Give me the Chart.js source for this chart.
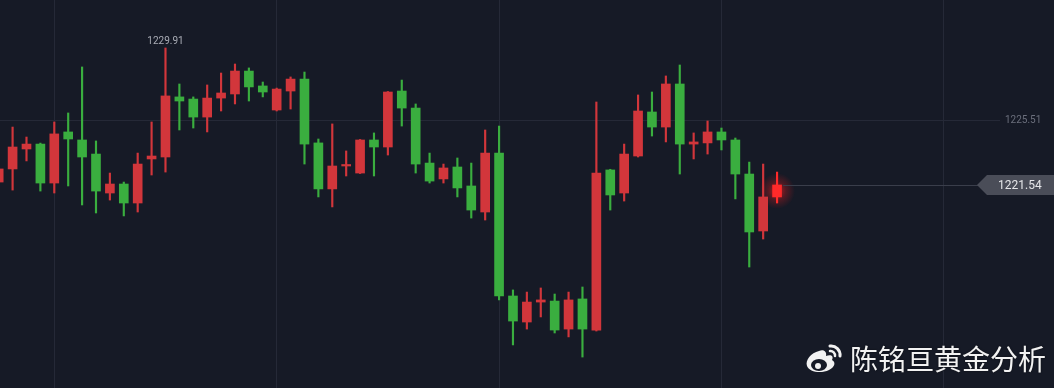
<!DOCTYPE html>
<html>
<head>
<meta charset="utf-8">
<script src="https://cdn.jsdelivr.net/npm/chart.js@4"></script>
<style>
  html, body { margin: 0; padding: 0; background: #161a26; }
  #wrap { position: relative; width: 1054px; height: 388px; }
  #mark { position: absolute; left: 804px; top: 342px; display: flex; align-items: center; gap: 6px;
          color: #f2f2f2; font: 28px "Noto Sans CJK SC", sans-serif; line-height: 1; text-shadow: 0 0 2px rgba(0,0,0,.6); }
</style>
</head>
<body>
<div id="wrap">
  <canvas id="c" width="1054" height="388"></canvas>
  <div id="mark">
    <svg width="40" height="32" viewBox="0 0 40 32">
      <path d="M15 9 C7 11 1 18 3 24 C5 30 17 32 25 28 C31 25 32 20 28 18 C30 14 27 12 22 14 C23 10 20 7 15 9 Z" fill="#f2f2f2"/>
      <ellipse cx="15" cy="23" rx="8" ry="6" fill="#161a26"/>
      <circle cx="14" cy="24" r="3" fill="#f2f2f2"/>
      <path d="M26 4 A9 9 0 0 1 36 14" stroke="#f2f2f2" stroke-width="3" fill="none" stroke-linecap="round"/>
      <path d="M26 9 A4.5 4.5 0 0 1 31 14" stroke="#f2f2f2" stroke-width="2.5" fill="none" stroke-linecap="round"/>
    </svg>
    <span>陈铭亘黄金分析</span>
  </div>
</div>
<script>
const opens  = [1221.72,1222.52,1223.74,1224.04,1221.66,1224.78,1224.29,1223.43,1221.05,1221.60,
                1220.44,1223.13,1223.25,1226.92,1226.79,1225.69,1226.85,1227.10,1228.50,1227.59,
                1226.12,1227.28,1228.01,1224.11,1221.30,1222.70,1222.27,1224.29,1223.86,1227.28,
                1226.24,1222.88,1221.91,1222.64,1221.48,1219.89,1223.49,1214.76,1213.17,1214.39,
                1214.45,1212.74,1214.58,1212.68,1222.46,1221.05,1223.31,1226.00,1225.08,1227.71,
                1224.04,1224.11,1224.78,1224.29,1222.21,1218.73,1220.81];
const closes = [1222.52,1223.86,1224.04,1221.66,1224.66,1224.35,1223.25,1221.17,1221.60,1220.44,
                1222.82,1223.31,1226.98,1226.67,1225.69,1226.85,1227.16,1228.50,1227.53,1227.22,
                1227.40,1228.01,1224.04,1221.30,1222.70,1222.76,1224.29,1223.86,1227.22,1226.24,
                1222.82,1221.78,1222.58,1221.36,1220.01,1223.49,1214.76,1213.23,1214.39,1214.52,
                1212.68,1214.52,1212.74,1222.27,1220.93,1223.43,1226.06,1225.08,1227.71,1224.04,
                1224.17,1224.78,1224.29,1222.21,1218.67,1220.81,1221.54];
const highs  = [1222.70,1225.08,1224.47,1224.10,1225.39,1225.94,1228.75,1224.23,1222.27,1221.72,
                1223.49,1225.39,1229.91,1227.71,1226.92,1227.65,1228.38,1228.93,1228.69,1227.83,
                1227.46,1228.14,1228.44,1224.35,1225.27,1223.62,1224.32,1224.72,1227.25,1227.95,
                1226.49,1223.49,1222.82,1223.19,1222.88,1224.90,1225.14,1215.13,1215.00,1215.25,
                1214.88,1215.00,1215.31,1226.61,1222.50,1224.04,1227.04,1227.22,1228.20,1228.87,
                1224.72,1225.45,1225.02,1224.41,1222.94,1222.82,1222.33];
const lows   = [1221.48,1221.23,1223.01,1221.17,1221.05,1221.48,1220.32,1219.83,1220.62,1219.65,
                1219.89,1222.15,1222.33,1224.90,1225.02,1224.78,1226.06,1226.49,1226.67,1226.92,
                1226.06,1226.18,1222.82,1220.81,1220.20,1222.09,1222.24,1222.09,1223.37,1225.14,
                1222.27,1221.66,1221.66,1220.81,1219.52,1219.40,1214.52,1211.77,1212.74,1213.48,
                1212.50,1212.26,1211.03,1212.62,1220.01,1220.56,1223.25,1224.53,1224.17,1222.21,
                1223.13,1223.43,1223.68,1220.69,1216.53,1218.24,1220.44];

const gridTicks = [4, 20, 36, 52, 68];
const priceTicks = [1225.51];
const maxLabel = { index: 12, value: 1229.91 };
const lastPrice = 1221.54;

const UP = '#d2363b', DOWN = '#3aae3f', LAST = '#ff2a2a';
const lastIdx = closes.length - 1;
const colorOf = i => i === lastIdx ? LAST : (closes[i] >= opens[i] ? UP : DOWN);

const bodies = opens.map((o, i) => ({ x: i, y: [Math.min(o, closes[i]), Math.max(o, closes[i])] }));
const wicks  = lows.map((l, i) => ({ x: i, y: [l, highs[i]] }));
const colors = opens.map((_, i) => colorOf(i));

// no label overhang padding, so the plot fills the whole canvas height
const noPad = s => { s.paddingTop = 0; s.paddingBottom = 0; s.paddingLeft = 0; s.paddingRight = 0; };

const overlay = {
  id: 'overlay',
  beforeDatasetsDraw(chart) {
    const { ctx, scales: { x, y } } = chart;
    const cx = x.getPixelForValue(lastIdx);
    const cy = y.getPixelForValue((opens[lastIdx] + closes[lastIdx]) / 2);
    const g = ctx.createRadialGradient(cx, cy, 0, cx, cy, 18);
    g.addColorStop(0, 'rgba(255,30,30,0.7)');
    g.addColorStop(0.5, 'rgba(255,30,30,0.25)');
    g.addColorStop(1, 'rgba(255,30,30,0)');
    ctx.save();
    ctx.fillStyle = g;
    ctx.fillRect(cx - 20, cy - 20, 40, 40);
    // last price line
    const py = Math.round(y.getPixelForValue(lastPrice)) + 0.5;
    ctx.strokeStyle = '#3a3e4b';
    ctx.lineWidth = 1;
    ctx.beginPath();
    ctx.moveTo(cx + 6, py);
    ctx.lineTo(980, py);
    ctx.stroke();
    ctx.restore();
  },
  afterDraw(chart) {
    const { ctx, scales: { x, y } } = chart;
    ctx.save();
    // max label
    ctx.fillStyle = '#a9acb5';
    ctx.font = '10px Roboto, "DejaVu Sans", sans-serif';
    ctx.textAlign = 'center';
    ctx.textBaseline = 'bottom';
    ctx.fillText(maxLabel.value.toFixed(2), x.getPixelForValue(maxLabel.index), y.getPixelForValue(maxLabel.value) - 1);
    // last price tag
    const py = y.getPixelForValue(lastPrice);
    ctx.fillStyle = '#4a4d58';
    ctx.beginPath();
    ctx.moveTo(977, py);
    ctx.lineTo(987, py - 10);
    ctx.lineTo(1054, py - 10);
    ctx.lineTo(1054, py + 10);
    ctx.lineTo(987, py + 10);
    ctx.closePath();
    ctx.fill();
    ctx.fillStyle = '#e4e5e8';
    ctx.font = '12px Roboto, "DejaVu Sans", sans-serif';
    ctx.textAlign = 'left';
    ctx.textBaseline = 'middle';
    ctx.fillText(lastPrice.toFixed(2), 998, py + 1);
    ctx.restore();
  }
};

new Chart(document.getElementById('c'), {
  type: 'bar',
  data: {
    datasets: [
      { data: bodies, backgroundColor: colors, barThickness: 9, minBarLength: 1.5, grouped: false },
      { data: wicks, backgroundColor: colors, barThickness: 1.5, grouped: false }
    ]
  },
  options: {
    responsive: false,
    animation: false,
    layout: { padding: 0 },
    plugins: { legend: { display: false }, tooltip: { enabled: false } },
    scales: {
      x: {
        type: 'linear',
        min: 0.094,
        max: 72.04,
        offset: false,
        afterBuildTicks: s => { s.ticks = gridTicks.map(v => ({ value: v })); },
        afterFit: s => { s.height = 0; noPad(s); },
        ticks: { display: false },
        grid: { color: '#252937', drawTicks: false, offset: false },
        border: { display: false }
      },
      y: {
        position: 'right',
        min: 1209.14,
        max: 1232.84,
        afterBuildTicks: s => { s.ticks = priceTicks.map(v => ({ value: v })); },
        afterFit: s => { s.width = 54; noPad(s); },
        ticks: {
          color: '#6b6f7c',
          padding: 5,
          font: { family: 'Roboto', size: 10 },
          callback: v => Number(v).toFixed(2)
        },
        grid: { color: '#252937', drawTicks: false },
        border: { display: false }
      }
    }
  },
  plugins: [overlay]
});
</script>
</body>
</html>
